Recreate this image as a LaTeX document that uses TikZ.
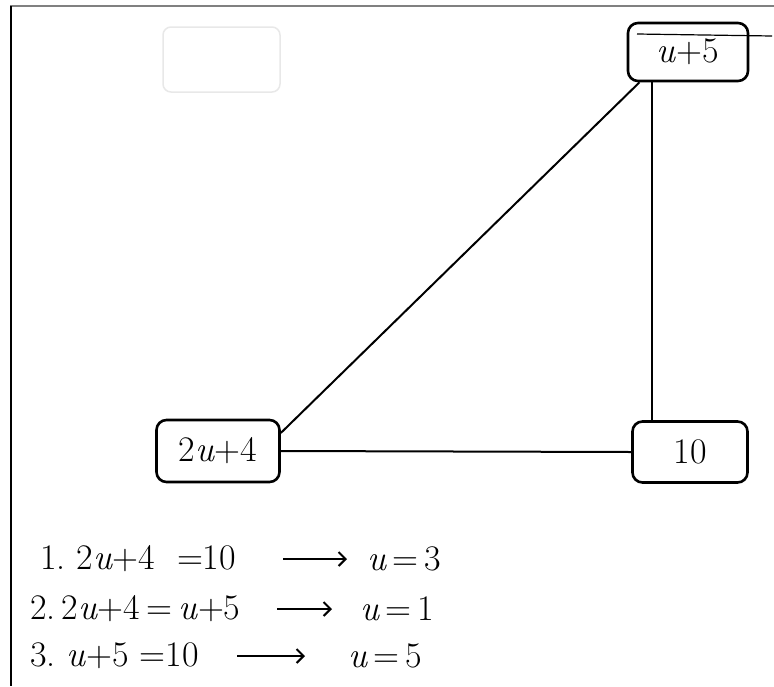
\documentclass[tikz,border=0pt]{standalone}
\usetikzlibrary{arrows.meta}
\newcommand{\vu}{\textit{u}}
\begin{document}
\begin{tikzpicture}[x=1pt,y=-1pt]
\tikzset{
  box/.style={draw=black, line width=2.6pt, rounded corners=10pt, inner sep=0pt,
    font=\fontsize{36}{42}\selectfont},
  edge/.style={draw=black, line width=2pt},
  eq/.style={anchor=west, inner sep=0pt, font=\fontsize{36}{42}\selectfont},
  eqarrow/.style={draw=black, line width=2pt, -{Straight Barb[length=7pt,width=14pt,line width=2pt]}},
  ghost/.style={draw=black!9, line width=1.5pt, rounded corners=8pt}
}
\useasboundingbox (0,0) rectangle (774,686);
\fill[white] (0,0) rectangle (774,686);
% frame of the scan
\draw[gray, line width=2.2pt] (10,6) -- (774,6);
\draw[black, line width=1.5pt] (11,6) -- (11,686);
% faint bleed-through box
\draw[ghost] (163,27) rectangle (280,92);
% nodes
\node[box, minimum width=120pt, minimum height=58pt] (t) at (688,52) {\vu+5};
\node[box, minimum width=123pt, minimum height=62pt] (l) at (218,451) {2\vu+4};
\node[box, minimum width=115pt, minimum height=61pt] (ten) at (690,452) {10};
% stray stroke across the top box
\coordinate (s1) at (637,34);
\coordinate (s2) at (772,36);
\draw[black, line width=1.2pt] (s1) -- (s2);
% connectors
\draw[edge] (l.east) -- (ten.west);
\draw[edge] (l.16) -- (t.212);
\draw[edge] ([xshift=-36pt]t.south) -- ([xshift=-38pt]ten.north);
% equations
\node[eq] (e1) at (40,559) {1.\ 2\vu+4\ \ =10};
\node[eq] (r1) at (367,559) {\vu\,=\,3};
\coordinate (a1s) at (283,559);
\coordinate (a1e) at (347,559);
\draw[eqarrow] (a1s) -- (a1e);
\node[eq] (e2) at (30,609) {2.\,2\vu+4\,=\,\vu+5};
\node[eq] (r2) at (360,609) {\vu\,=\,1};
\coordinate (a2s) at (277,609);
\coordinate (a2e) at (332,609);
\draw[eqarrow] (a2s) -- (a2e);
\node[eq] (e3) at (30,656) {3.\ \vu+5\ =10};
\node[eq] (r3) at (348,656) {\vu\,=\,5};
\coordinate (a3s) at (237,656);
\coordinate (a3e) at (305,656);
\draw[eqarrow] (a3s) -- (a3e);
\end{tikzpicture}
\end{document}
